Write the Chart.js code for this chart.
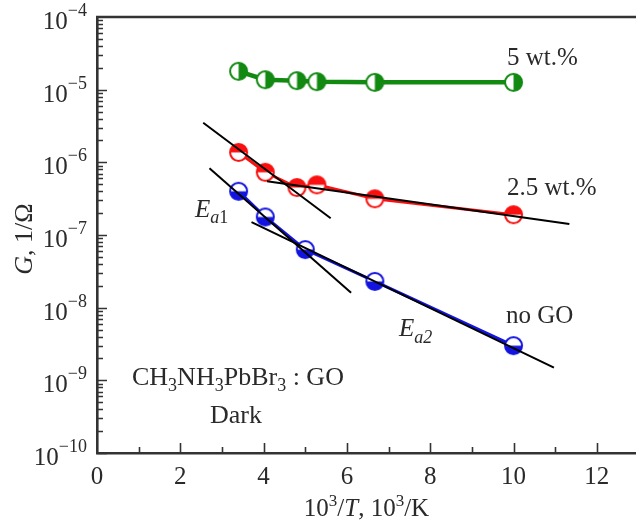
<!DOCTYPE html>
<html><head><meta charset="utf-8">
<script src="https://cdn.jsdelivr.net/npm/chart.js@4"></script>
<style>html,body{margin:0;padding:0;background:#fff;overflow:hidden}canvas{display:block}</style>
</head><body>
<canvas id="c" width="636" height="523"></canvas>
<script>
// ---- data ----
const xGO = [3.4, 4.04, 4.8, 5.28, 6.67, 10];          // 10^3/T for GO samples
const g5wt = [1.79e-5, 1.37e-5, 1.33e-5, 1.29e-5, 1.26e-5, 1.26e-5];
const g25wt = [1.37e-6, 7.3e-7, 4.5e-7, 4.9e-7, 3.15e-7, 1.9e-7];
const xNoGO = [3.4, 4.04, 5.0, 6.67, 10];
const gNoGO = [4.0e-7, 1.77e-7, 6.3e-8, 2.3e-8, 3.0e-9];
const fitRed1X = [2.55, 5.61],  fitRed1Y = [3.5e-6, 1.7e-7];
const fitRed2X = [4.08, 11.34], fitRed2Y = [5.5e-7, 1.42e-7];
const fitBlue1X = [2.70, 6.10], fitBlue1Y = [8.3e-7, 1.6e-8];
const fitBlue2X = [3.71, 10.97], fitBlue2Y = [1.5e-7, 1.5e-9];
const xTickVals = [0, 2, 4, 6, 8, 10, 12];
const yTickExps = [-10, -9, -8, -7, -6, -5, -4];

const SERIF = '"Liberation Serif", "Times New Roman", serif';
const TXT = '#2a2a2a';
const GREEN = '#128a12', RED = '#fa1010', BLUE = '#1414e0';

function pts(xs, ys) { return xs.map((x, i) => ({x: x, y: ys[i]})); }

function marker(color, a0) {
  const c = document.createElement('canvas');
  c.width = 23; c.height = 23;
  const g = c.getContext('2d');
  const r = 8.5, m = 11.5;
  g.beginPath(); g.arc(m, m, r, 0, Math.PI * 2); g.fillStyle = '#fff'; g.fill();
  g.beginPath(); g.arc(m, m, r, a0, a0 + Math.PI); g.closePath(); g.fillStyle = color; g.fill();
  g.beginPath(); g.arc(m, m, r, 0, Math.PI * 2); g.lineWidth = 2; g.strokeStyle = color; g.stroke();
  return c;
}
const mkGreen = marker(GREEN, -Math.PI / 2);
const mkRed = marker(RED, Math.PI);
const mkBlue = marker(BLUE, 0);

function fitDs(xs, ys) {
  return {data: pts(xs, ys), borderColor: '#000', borderWidth: 2, pointRadius: 0, order: 0, fill: false};
}

function runs(ctx, x, y, list, align) {
  let w = 0;
  list.forEach(r => { ctx.font = r.f; w += ctx.measureText(r.t).width; });
  let cx = align === 'center' ? x - w / 2 : (align === 'right' ? x - w : x);
  list.forEach(r => {
    ctx.font = r.f;
    ctx.fillText(r.t, cx, y + (r.dy || 0));
    cx += ctx.measureText(r.t).width;
  });
}

const F = s => s + 'px ' + SERIF;
const FI = s => 'italic ' + s + 'px ' + SERIF;

const deco = {
  id: 'deco',
  afterDraw(chart) {
    const {ctx, chartArea: a, scales: {x, y}} = chart;
    ctx.save();
    ctx.strokeStyle = '#333';
    ctx.lineWidth = 1.6;
    ctx.beginPath();
    for (let e = -10; e < -4; e++) {
      for (let m = 1; m <= 9; m++) {
        const py = Math.round(y.getPixelForValue(m * Math.pow(10, e))) + 0.5;
        const len = m === 1 ? 10 : 6;
        ctx.moveTo(a.left, py); ctx.lineTo(a.left + len, py);
      }
    }
    for (let i = 1; i <= 12; i++) {
      const px = Math.round(x.getPixelForValue(i)) + 0.5;
      const len = i % 2 === 0 ? 10 : 6;
      ctx.moveTo(px, a.bottom); ctx.lineTo(px, a.bottom - len);
    }
    ctx.stroke();
    ctx.lineWidth = 2.6;
    ctx.beginPath(); ctx.moveTo(a.left - 1, a.top); ctx.lineTo(a.right, a.top); ctx.stroke();

    ctx.fillStyle = TXT;
    ctx.textBaseline = 'alphabetic';
    ctx.textAlign = 'left';
    // y tick labels: 10^n
    y.ticks.forEach(t => {
      const e = Math.round(Math.log10(t.value));
      const py = y.getPixelForValue(t.value);
      runs(ctx, a.left - 10, py + 12, [{t: '10', f: F(25)}, {t: '\u2212' + Math.abs(e), f: F(18), dy: -13}], 'right');
    });
    runs(ctx, 507, 65, [{t: '5 wt.%', f: F(25)}]);
    runs(ctx, 507, 195, [{t: '2.5 wt.%', f: F(25)}]);
    runs(ctx, 506, 323, [{t: 'no GO', f: F(25)}]);
    runs(ctx, 195, 217, [{t: 'E', f: FI(25)}, {t: 'a', f: FI(18), dy: 6}, {t: '1', f: F(18), dy: 6}]);
    runs(ctx, 399, 336, [{t: 'E', f: FI(25)}, {t: 'a', f: FI(18), dy: 7}, {t: '2', f: FI(18), dy: 7}]);
    runs(ctx, 132, 385, [
      {t: 'CH', f: F(26)}, {t: '3', f: F(18), dy: 6}, {t: 'NH', f: F(26)}, {t: '3', f: F(18), dy: 6},
      {t: 'PbBr', f: F(26)}, {t: '3', f: F(18), dy: 6}, {t: ' : GO', f: F(26)}]);
    runs(ctx, 210, 423, [{t: 'Dark', f: F(26)}]);
    // x axis title
    runs(ctx, (a.left + a.right) / 2, 516, [
      {t: '10', f: F(25)}, {t: '3', f: F(17), dy: -10}, {t: '/', f: F(25)}, {t: 'T', f: FI(25)},
      {t: ', 10', f: F(25)}, {t: '3', f: F(17), dy: -10}, {t: '/K', f: F(25)}], 'center');
    // y axis title
    ctx.save();
    ctx.translate(32, 239);
    ctx.rotate(-Math.PI / 2);
    runs(ctx, 0, 0, [{t: 'G', f: FI(26)}, {t: ', 1/\u03A9', f: F(26)}], 'center');
    ctx.restore();
    ctx.restore();
  }
};

new Chart(document.getElementById('c'), {
  type: 'line',
  data: {
    datasets: [
      fitDs(fitRed1X, fitRed1Y), fitDs(fitRed2X, fitRed2Y),
      fitDs(fitBlue1X, fitBlue1Y), fitDs(fitBlue2X, fitBlue2Y),
      {label: '5 wt.%', data: pts(xGO, g5wt), borderColor: GREEN, borderWidth: 4.5,
        pointStyle: mkGreen, pointRadius: 8.5, order: 1},
      {label: '2.5 wt.%', data: pts(xGO, g25wt), borderColor: RED, borderWidth: 3,
        pointStyle: mkRed, pointRadius: 8.5, order: 1},
      {label: 'no GO', data: pts(xNoGO, gNoGO), borderColor: BLUE, borderWidth: 3,
        pointStyle: mkBlue, pointRadius: 8.5, order: 1}
    ]
  },
  options: {
    responsive: false,
    animation: false,
    devicePixelRatio: 1,
    layout: {autoPadding: false, padding: {top: 17, right: 0, left: 0, bottom: 0}},
    plugins: {legend: {display: false}, tooltip: {enabled: false}},
    elements: {line: {tension: 0}},
    scales: {
      x: {
        type: 'linear', min: 0, max: 12.94,
        afterBuildTicks: s => { s.ticks = xTickVals.map(v => ({value: v})); },
        afterFit: s => { s.height = 70; s.paddingLeft = 0; s.paddingRight = 0; },
        grid: {display: false, drawTicks: false},
        border: {display: true, color: '#333', width: 2.6},
        ticks: {color: TXT, padding: 9, font: {family: SERIF, size: 25}, autoSkip: false, maxRotation: 0,
          callback: v => String(v)}
      },
      y: {
        type: 'logarithmic', min: 1e-10, max: 1e-4,
        afterBuildTicks: s => { s.ticks = yTickExps.map(e => ({value: Math.pow(10, e)})); },
        afterFit: s => { s.width = 97; s.paddingTop = 0; s.paddingBottom = 0; },
        grid: {display: false, drawTicks: false},
        border: {display: true, color: '#333', width: 2.6},
        ticks: {display: false, autoSkip: false}
      }
    }
  },
  plugins: [deco]
});
</script>
</body></html>
